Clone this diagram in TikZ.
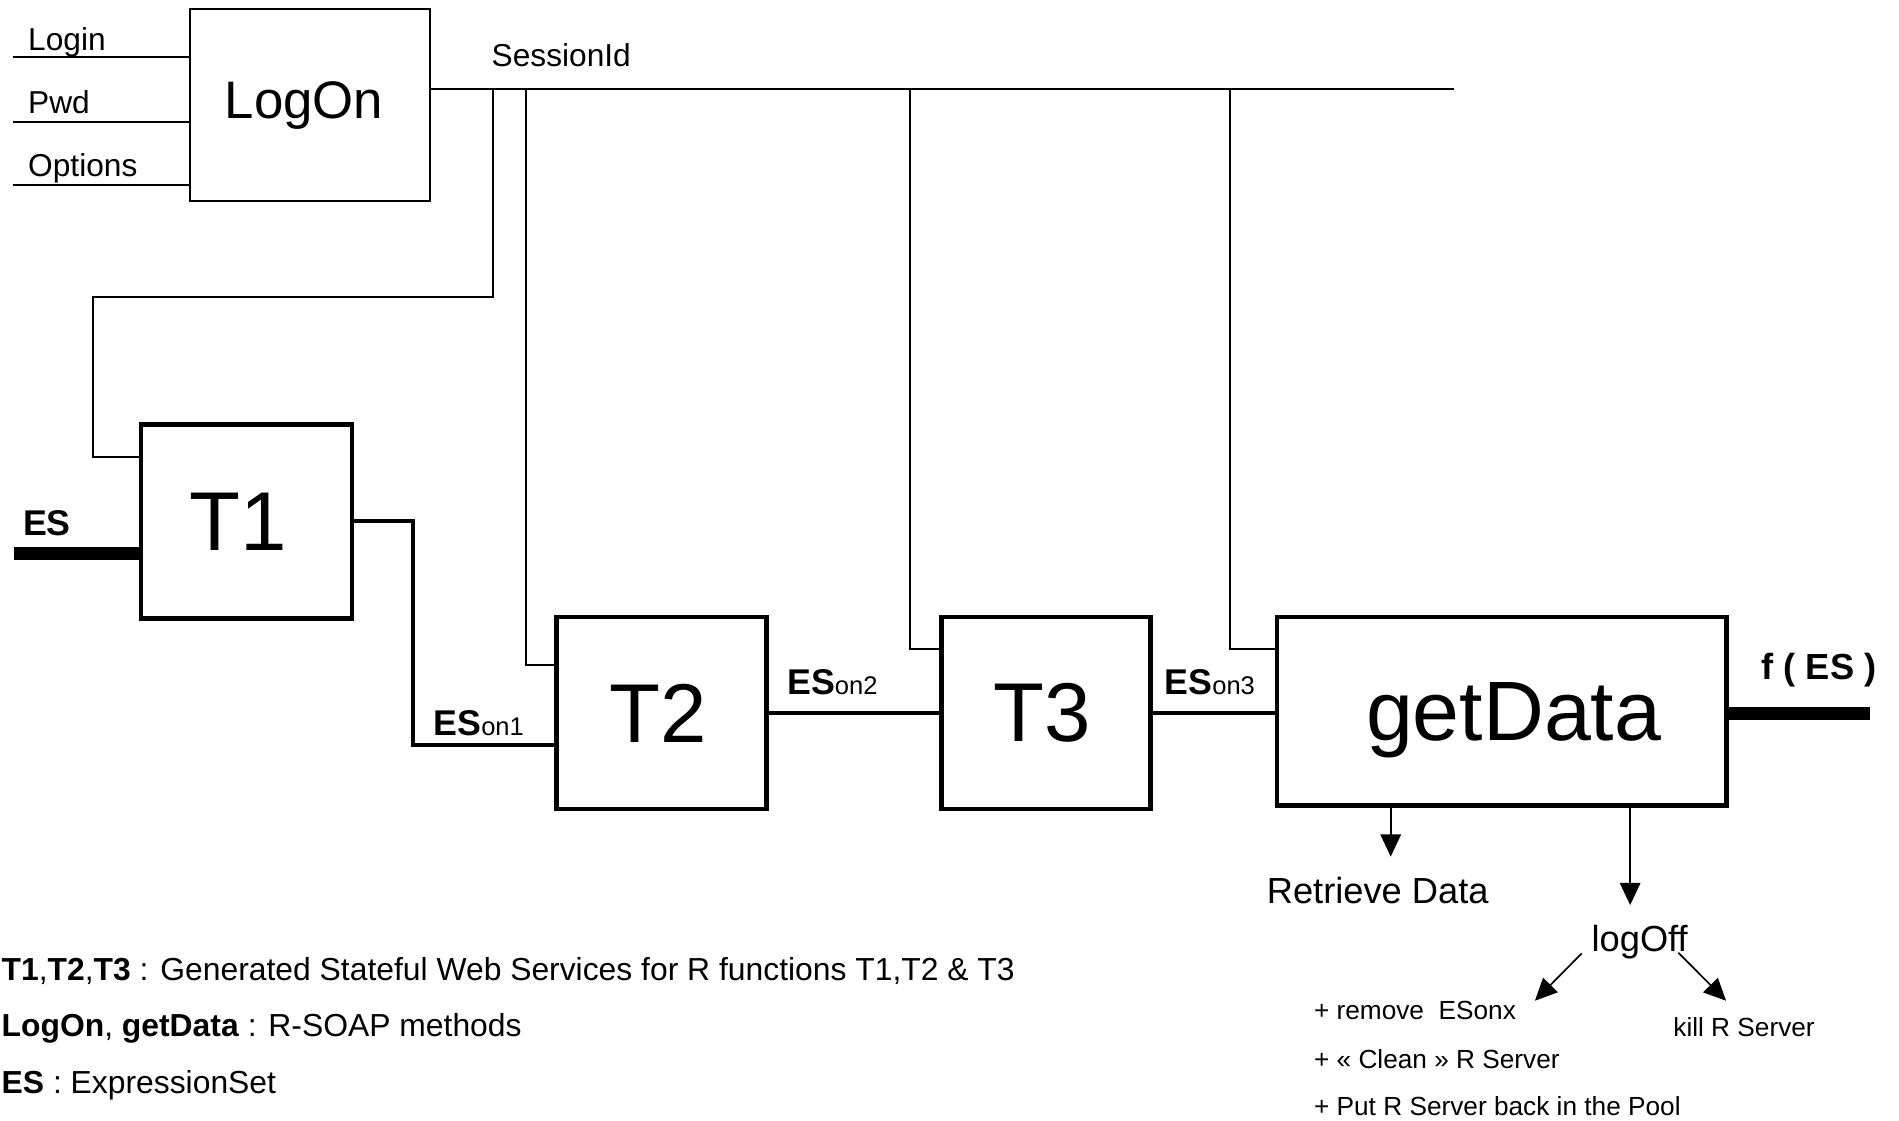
\documentclass[tikz,border=0pt]{standalone}
\usepackage{fontspec}
\setmainfont{Liberation Sans}
\usetikzlibrary{arrows.meta}
\newcommand\fsz[1]{\fontsize{#1}{#1}\selectfont}
\begin{document}
\begin{tikzpicture}[x=0.025cm,y=-0.025cm,
  thinln/.style={line width=1pt},
  boxthin/.style={draw, line width=1.2pt, inner sep=0pt, outer sep=0pt},
  boxthick/.style={draw, line width=2.7pt, inner sep=0pt, outer sep=0pt, line join=miter},
  flow/.style={line width=2.4pt, line join=miter},
  fat/.style={line width=7.6pt},
  arr/.style={line width=1pt, -{Triangle[length=13pt,width=12pt]}},
  lbl/.style={inner sep=0pt, outer sep=0pt, anchor=base west},
]
\fill[white] (0,0) rectangle (1568,925);
\useasboundingbox (0,0) rectangle (1568,925);

% boxes
\node[boxthin, minimum width=4.95cm, minimum height=3.9575cm, font=\fsz{31}] (logon) at (256,86.8) {LogOn\hspace*{7pt}};
\node[boxthick, minimum width=4.35cm, minimum height=4.0cm, font=\fsz{49}] (t1) at (203.5,430.5) {T1\hspace*{10pt}};
\node[boxthick, minimum width=4.3375cm, minimum height=3.9625cm, font=\fsz{49}] (t2) at (546.3,588.8) {T2\hspace*{4pt}};
\node[boxthick, minimum width=4.3125cm, minimum height=3.9625cm, font=\fsz{49}] (t3) at (863.8,588.8) {T3\hspace*{5pt}};
\node[boxthick, minimum width=9.275cm, minimum height=3.8875cm, font=\fsz{49.5}, text depth=0pt] (gd) at (1240,587.3) {\hspace*{14pt}getData};

% inputs of LogOn
\node[lbl, font=\fsz{18.6}] (login) at (23.3,41.3) {Login};
\node[lbl, font=\fsz{18.6}] (pwd) at (23.3,93.6) {Pwd};
\node[lbl, font=\fsz{18.6}] (opts) at (23.3,145.9) {Options};
\coordinate (in1) at (11,47.3);
\coordinate (in2) at (11,100.5);
\coordinate (in3) at (11,152.8);
\draw[thinln] (in1) -- (logon.west |- in1);
\draw[thinln] (in2) -- (logon.west |- in2);
\draw[thinln] (in3) -- (logon.west |- in3);

% SessionId bus
\node[lbl, font=\fsz{18.6}] (sid) at (406,54.5) {SessionId};
\coordinate (send) at (1200.9,73.7);
\coordinate (j1) at (407.3,73.7);
\coordinate (j2) at (434.6,73.7);
\coordinate (j3) at (751.4,73.7);
\coordinate (j4) at (1015.5,73.7);
\coordinate (k1) at (77,377.6);
\coordinate (k2) at (434.6,549.2);
\coordinate (k3) at (751.4,535.6);
\coordinate (k4) at (1015.5,535.6);
\draw[thinln] (logon.east |- send) -- (send);
\draw[thinln] (j1) -- (407.3,245.1) -- (77,245.1) -- (k1) -- (t1.west |- k1);
\draw[thinln] (j2) -- (k2) -- (t2.west |- k2);
\draw[thinln] (j3) -- (k3) -- (t3.west |- k3);
\draw[thinln] (j4) -- (k4) -- (gd.west |- k4);

% ES flow
\coordinate (esin) at (11.8,457);
\node[lbl, font=\bfseries\fsz{21}] (es) at (19,441.8) {ES};
\draw[fat] (esin) -- (t1.west |- esin);
\coordinate (c1) at (341.3,615.1);
\draw[flow] (t1.east) -- (c1 |- t1.east) -- (c1) -- (t2.west |- c1);
\draw[flow] (t2.east) -- (t3.west);
\draw[flow] (t3.east) -- (gd.west |- t3.east);
\node[lbl] (eson1) at (358,606.9) {{\bfseries\fsz{21}ES}{\fsz{15}on1}};
\node[lbl] (eson2) at (650,573.2) {{\bfseries\fsz{21}ES}{\fsz{15}on2}};
\node[lbl] (eson3) at (961.6,573.2) {{\bfseries\fsz{21}ES}{\fsz{15}on3}};

% output
\coordinate (fout) at (1544,589);
\draw[fat] (gd.east |- fout) -- (fout);
\node[lbl, font=\bfseries\fsz{21.3}] (fes) at (1454.6,561) {f ( ES )};

% below getData
\node[lbl, font=\fsz{21.3}] (rd) at (1046,745.9) {Retrieve Data};
\node[lbl, font=\fsz{21.3}] (logoff) at (1314.2,785.8) {logOff};
\coordinate (rdtip) at (1148.3,707.3);
\coordinate (lotip) at (1346,747.3);
\draw[arr] (gd.south -| rdtip) -- (rdtip);
\draw[arr] (gd.south -| lotip) -- (lotip);

\node[lbl, font=\fsz{15.4}] (rem1) at (1085,842.2) {+ remove~~ESonx};
\node[lbl, font=\fsz{15.4}] (rem2) at (1085,882.1) {+ « Clean » R Server};
\node[lbl, font=\fsz{15.4}] (rem3) at (1085,920.7) {+ Put R Server back in the Pool};
\node[lbl, font=\fsz{15.4}] (kill) at (1381.7,856) {kill R Server};
\coordinate (dl0) at (1306,787.2);
\coordinate (dl1) at (1267.4,826.3);
\coordinate (dr0) at (1385.8,786.6);
\coordinate (dr1) at (1425.2,826.3);
\draw[arr] (dl0) -- (dl1);
\draw[arr] (dr0) -- (dr1);

% legend
\node[lbl, font=\fsz{18.7}] (leg1) at (1.4,809.2) {\textbf{T1},\textbf{T2},\textbf{T3} : Generated Stateful Web Services for R functions T1,T2 \& T3};
\node[lbl, font=\fsz{18.7}] (leg2) at (1.4,856.2) {\textbf{LogOn}, \textbf{getData} : R-SOAP methods};
\node[lbl, font=\fsz{18.7}] (leg3) at (1.4,903.3) {\textbf{ES} : ExpressionSet};
\end{tikzpicture}
\end{document}
